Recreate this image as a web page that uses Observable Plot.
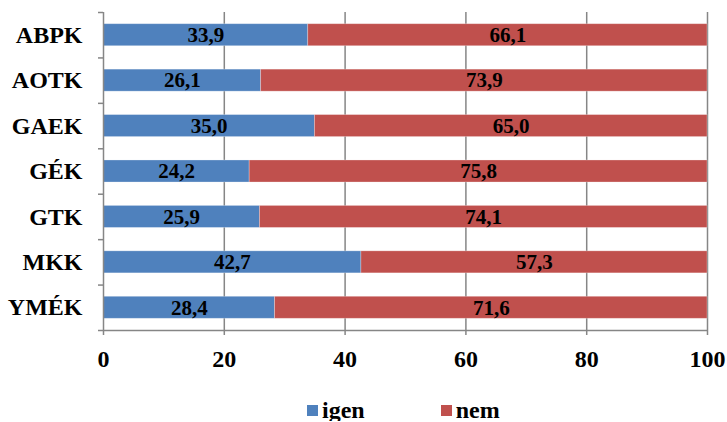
<!DOCTYPE html>
<html>
<head>
<meta charset="utf-8">
<script src="https://cdn.jsdelivr.net/npm/d3@7"></script>
<script src="https://cdn.jsdelivr.net/npm/@observablehq/plot@0.6"></script>
<style>
  body { margin: 0; background: #fff; font-family: "Liberation Serif", "Times New Roman", serif; font-weight: bold; overflow: hidden; }
  svg, svg text { font-family: "Liberation Serif", "Times New Roman", serif !important; font-weight: bold; }
  #legend { display: flex; align-items: center; height: 22px; padding-top: 16px; margin-left: 307px; font-size: 24px; line-height: 22px; }
  .sw { width: 11px; height: 11px; display: inline-block; margin-right: 4px; }
</style>
</head>
<body>
<div id="chart"></div>
<div id="legend"></div>
<script>
const categories = ["ABPK", "AOTK", "GAEK", "GÉK", "GTK", "MKK", "YMÉK"];
const igen = [33.9, 26.1, 35.0, 24.2, 25.9, 42.7, 28.4];
const nem = [66.1, 73.9, 65.0, 75.8, 74.1, 57.3, 71.6];
const seriesNames = ["igen", "nem"];
const seriesColors = ["#4F81BD", "#C0504D"];
const xTicks = [0, 20, 40, 60, 80, 100];

const rows = [];
categories.forEach((c, i) => {
  rows.push({cat: c, i, series: "igen", x1: 0, x2: igen[i], v: igen[i]});
  rows.push({cat: c, i, series: "nem", x1: igen[i], x2: igen[i] + nem[i], v: nem[i]});
});
const fmt = v => v.toFixed(1).replace(".", ",");
const grid = "#868686";
const ff = "Liberation Serif";

const chart = Plot.plot({
  width: 727,
  height: 383,
  marginLeft: 103,
  marginRight: 20,
  marginTop: 12,
  marginBottom: 53,
  style: {fontFamily: "'Liberation Serif', serif", fontWeight: "bold", color: "#000", background: "#fff"},
  x: {domain: [0, 100]},
  y: {domain: [0, categories.length], reverse: true},
  color: {domain: seriesNames, range: seriesColors},
  marks: [
    Plot.ruleX(xTicks.filter(t => t > 0), {stroke: grid, strokeWidth: 1.5}),
    Plot.rect(rows, {x1: "x1", x2: "x2", y1: d => d.i, y2: d => d.i + 1, fill: "series", insetTop: 11.7, insetBottom: 11.7, stroke: "#fff", strokeOpacity: 0.35, strokeWidth: 0.8}),
    Plot.text(rows, {x: d => (d.x1 + d.x2) / 2, y: d => d.i + 0.5, text: d => fmt(d.v), fontSize: 21, fontWeight: "bold", fontFamily: ff, fill: "#000"}),
    Plot.ruleX([0], {stroke: grid, strokeWidth: 1.5}),
    Plot.ruleY([categories.length], {stroke: grid, strokeWidth: 1.5}),
    Plot.axisX({ticks: xTicks, tickSize: 5, tickPadding: 14, stroke: grid, strokeWidth: 1.5, fontSize: 24, fontWeight: "bold", fontFamily: ff, fill: "#000", label: null}),
    Plot.axisY({ticks: d3.range(categories.length + 1), tickSize: 5, tickFormat: () => "", stroke: grid, strokeWidth: 1.5, label: null}),
    Plot.axisY({ticks: categories.map((c, i) => i + 0.5), tickSize: 0, tickPadding: 21, tickFormat: t => categories[Math.floor(t)], fontSize: 24, fontWeight: "bold", fontFamily: ff, fill: "#000", label: null})
  ]
});
document.getElementById("chart").appendChild(chart);

const legend = document.getElementById("legend");
seriesNames.forEach((s, k) => {
  const item = document.createElement("span");
  item.style.display = "inline-flex";
  item.style.alignItems = "center";
  item.style.marginRight = k === 0 ? "76px" : "0";
  const sw = document.createElement("span");
  sw.className = "sw";
  sw.style.background = seriesColors[k];
  item.appendChild(sw);
  item.appendChild(document.createTextNode(s));
  legend.appendChild(item);
});
</script>
</body>
</html>
